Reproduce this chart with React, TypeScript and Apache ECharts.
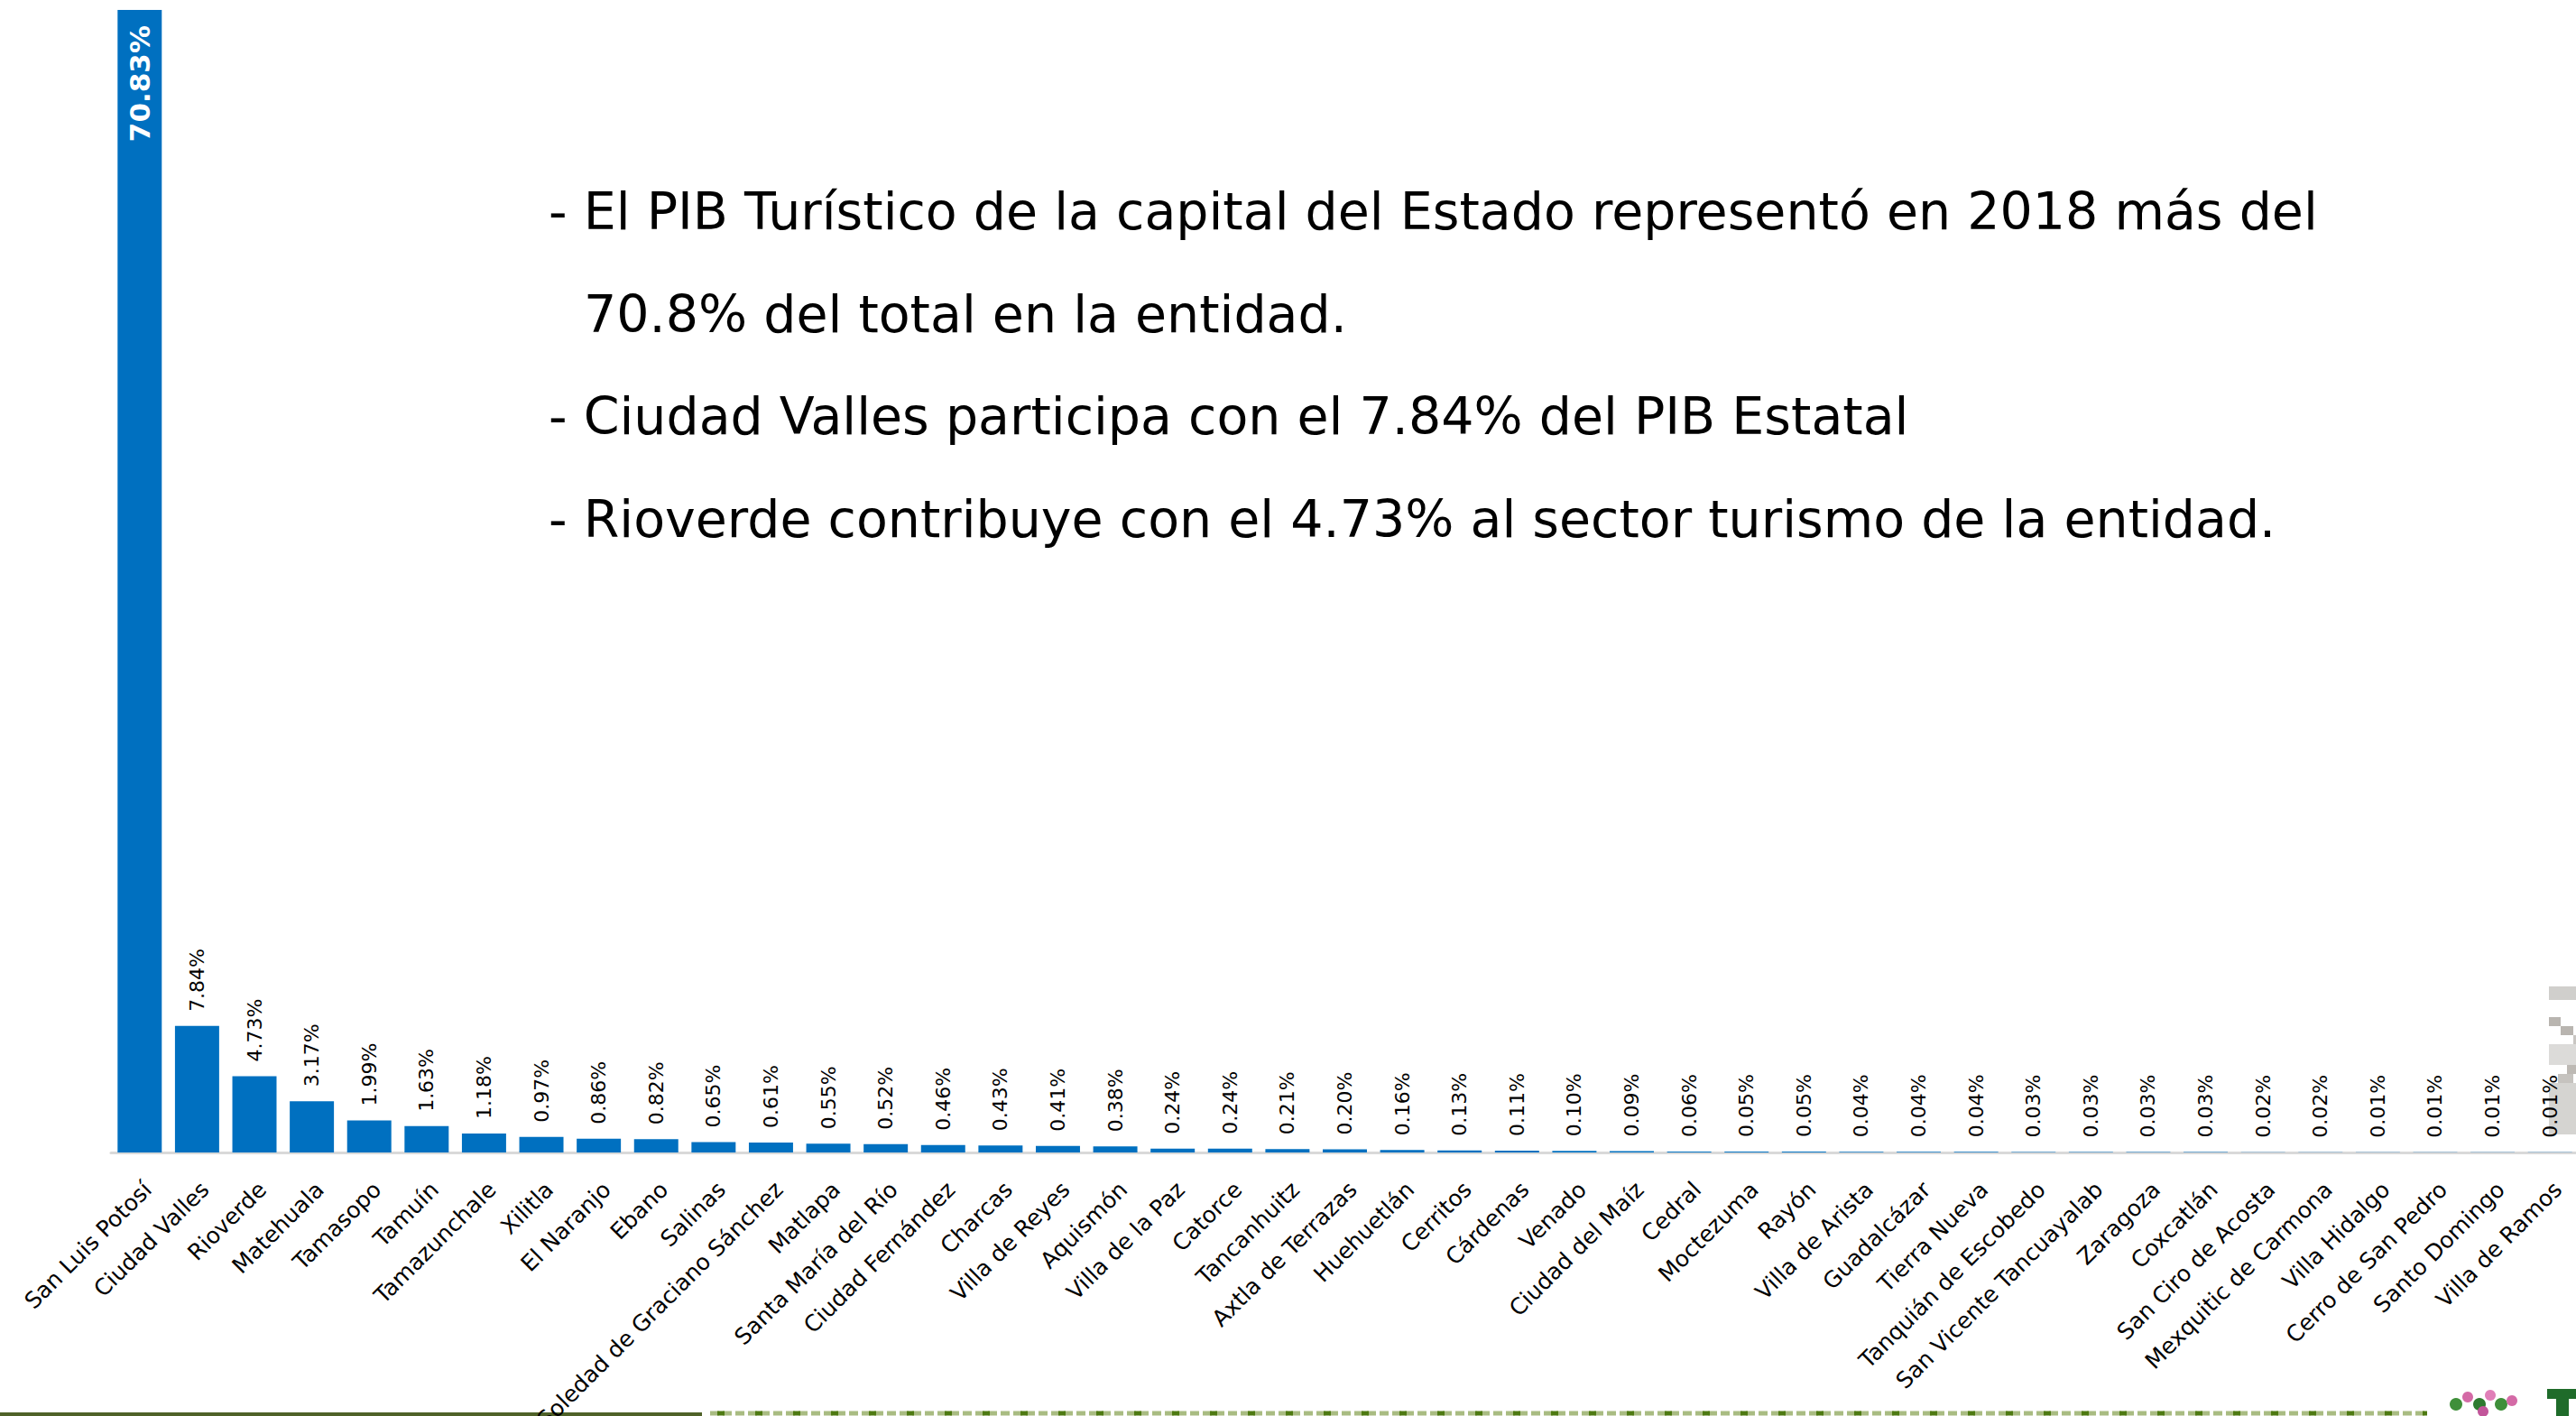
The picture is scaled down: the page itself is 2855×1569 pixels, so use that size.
import React, { useEffect, useRef } from "react";
import * as echarts from "echarts";

const categories = [
  "San Luis Potosí", "Ciudad Valles", "Rioverde", "Matehuala", "Tamasopo", "Tamuín",
  "Tamazunchale", "Xilitla", "El Naranjo", "Ebano", "Salinas", "Soledad de Graciano Sánchez",
  "Matlapa", "Santa María del Río", "Ciudad Fernández", "Charcas", "Villa de Reyes", "Aquismón",
  "Villa de la Paz", "Catorce", "Tancanhuitz", "Axtla de Terrazas", "Huehuetlán", "Cerritos",
  "Cárdenas", "Venado", "Ciudad del Maíz", "Cedral", "Moctezuma", "Rayón", "Villa de Arista",
  "Guadalcázar", "Tierra Nueva", "Tanquián de Escobedo", "San Vicente Tancuayalab", "Zaragoza",
  "Coxcatlán", "San Ciro de Acosta", "Mexquitic de Carmona", "Villa Hidalgo", "Cerro de San Pedro",
  "Santo Domingo", "Villa de Ramos",
];

const values = [
  70.83, 7.84, 4.73, 3.17, 1.99, 1.63, 1.18, 0.97, 0.86, 0.82, 0.65, 0.61, 0.55, 0.52, 0.46,
  0.43, 0.41, 0.38, 0.24, 0.24, 0.21, 0.2, 0.16, 0.13, 0.11, 0.1, 0.09, 0.06, 0.05, 0.05, 0.04,
  0.04, 0.04, 0.03, 0.03, 0.03, 0.03, 0.02, 0.02, 0.01, 0.01, 0.01, 0.01,
];

const noteLines = [
  "- El PIB Turístico de la capital del Estado representó en 2018 más del",
  "70.8% del total en la entidad.",
  "- Ciudad Valles participa con el 7.84% del PIB Estatal",
  "- Rioverde contribuye con el 4.73% al sector turismo de la entidad.",
];

const FONT = '"DejaVu Sans", Verdana, sans-serif';

export default function App() {
  const ref = useRef<HTMLDivElement>(null);

  useEffect(() => {
    if (!ref.current) return;
    const chart = echarts.init(ref.current, undefined, { renderer: "svg" });

    const seriesData = values.map((v, i) =>
      i === 0
        ? {
            value: v,
            label: {
              position: "insideTop",
              align: "right",
              verticalAlign: "middle",
              color: "#ffffff",
              fontWeight: "bold",
              fontSize: 31,
              distance: 17,
            },
          }
        : { value: v }
    );

    const lineX = [608, 647, 608, 608];
    const lineY = [234, 348, 461, 575];

    const graphics: any[] = noteLines.map((t, i) => ({
      type: "text",
      x: lineX[i],
      y: lineY[i],
      z: 10,
      style: {
        text: t,
        font: `57px ${FONT}`,
        fill: "#000000",
        verticalAlign: "middle",
        align: "left",
      },
    }));

    // decorative footer: solid olive line + dashed texture line
    graphics.push(
      { type: "rect", shape: { x: 0, y: 1565, width: 778, height: 4 }, style: { fill: "#4f6228" } },
      {
        type: "line",
        shape: { x1: 787, y1: 1566, x2: 2690, y2: 1566 },
        style: { stroke: "#a9bc82", lineWidth: 5, lineDash: [10, 4] },
      },
      {
        type: "line",
        shape: { x1: 795, y1: 1566, x2: 2690, y2: 1566 },
        style: { stroke: "#4e7a12", lineWidth: 5, lineDash: [8, 34] },
      }
    );

    // grey checker decoration at right edge
    const greyBlocks = [
      [2825, 1093, 30, 15, "#d0cfcc"],
      [2825, 1127, 13, 10, "#b9b5b0"],
      [2838, 1137, 14, 10, "#b9b5b0"],
      [2852, 1147, 3, 10, "#c9c6c2"],
      [2825, 1157, 30, 23, "#dcdbd9"],
      [2845, 1180, 10, 10, "#bdb9b4"],
      [2835, 1190, 17, 10, "#c6c3bf"],
      [2825, 1200, 30, 57, "#d5d4d1"],
    ];
    greyBlocks.forEach(([x, y, w, h, c]) =>
      graphics.push({
        type: "rect",
        shape: { x, y, width: w, height: h },
        style: { fill: c },
      })
    );

    // small logo approximation bottom right
    const dots = [
      [2722, 1556, 7, "#3f8f3a"],
      [2735, 1548, 6, "#d46aa6"],
      [2748, 1556, 7, "#2e7a30"],
      [2760, 1546, 6, "#e07fb8"],
      [2772, 1556, 7, "#3f8f3a"],
      [2784, 1552, 6, "#d46aa6"],
      [2752, 1564, 6, "#c2559a"],
    ];
    dots.forEach(([cx, cy, r, c]) =>
      graphics.push({ type: "circle", shape: { cx, cy, r }, style: { fill: c } })
    );
    // green "T"-shaped logo mark, cut by the page edge
    graphics.push(
      { type: "rect", shape: { x: 2823, y: 1539, width: 32, height: 11 }, style: { fill: "#1f6b2a" } },
      { type: "rect", shape: { x: 2833, y: 1550, width: 14, height: 19 }, style: { fill: "#1f6b2a" } }
    );

    chart.setOption({
      animation: false,
      backgroundColor: "#ffffff",
      grid: {
        left: 123,
        top: 8,
        width: 2735,
        bottom: 292,
        containLabel: false,
        outerBoundsMode: "none",
      },
      xAxis: {
        type: "category",
        data: categories,
        axisLine: { show: true, lineStyle: { color: "#d9d9d9", width: 3 } },
        axisTick: { show: false },
        axisLabel: {
          interval: 0,
          rotate: 45,
          align: "right",
          verticalAlign: "top",
          margin: 28,
          fontSize: 25,
          fontFamily: FONT,
          color: "#000000",
        },
      },
      yAxis: {
        type: "value",
        min: 0,
        max: 71,
        show: false,
        splitLine: { show: false },
      },
      series: [
        {
          type: "bar",
          data: seriesData,
          barWidth: "77%",
          itemStyle: { color: "#0070c0" },
          label: {
            show: true,
            position: "top",
            rotate: 90,
            align: "left",
            verticalAlign: "middle",
            distance: 16,
            fontSize: 22,
            fontFamily: FONT,
            color: "#000000",
            formatter: (p: any) => `${Number(p.value).toFixed(2)}%`,
          },
        },
      ],
      graphic: graphics,
    });

    return () => chart.dispose();
  }, []);

  return (
    <div
      ref={ref}
      style={{ position: "absolute", left: 0, top: 0, width: 2855, height: 1569, background: "#fff" }}
    />
  );
}
